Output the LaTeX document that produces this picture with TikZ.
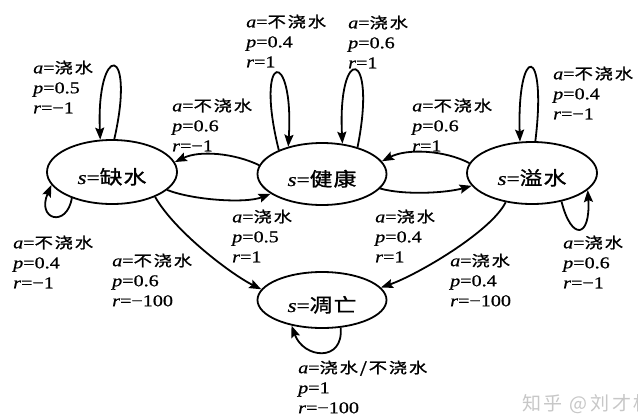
\documentclass[tikz,border=0pt]{standalone}
\usepackage{fontspec}
\setmainfont{Liberation Serif}[FakeStretch=1.22,FakeBold=0.7]
\newfontfamily\cjk{Noto Sans CJK SC}[FakeStretch=1.22,LetterSpace=12,FakeBold=1.2]
\newfontfamily\cjkn{Noto Sans CJK SC}[FakeStretch=1.2,LetterSpace=6,FakeBold=1.2]
\newfontfamily\wmfont{Noto Sans CJK SC}[LetterSpace=14]
\usetikzlibrary{arrows.meta,shapes.geometric}
\newcommand\mylab[3]{\textit{a}={\cjk\fontsize{15}{20}\selectfont #1}\\\textit{p}=#2\\\textit{r}=#3}
\newcommand\stname[1]{\textit{s}={\cjkn #1}\hspace{8pt}}
\begin{document}
\begin{tikzpicture}[x=1pt,y=-1pt,
  state/.style={draw,ellipse,line width=1.8pt,inner sep=0pt,text height=24pt,text depth=0pt,font=\fontsize{19}{22}\selectfont},
  arr/.style={line width=1.8pt,-{Stealth[length=12pt,width=9pt,inset=2pt]}},
  lab/.style={anchor=west,align=left,inner sep=0pt,font=\fontsize{16.5}{20}\selectfont},
  wm/.style={anchor=west,inner sep=0pt,text=black!22,font=\wmfont\fontsize{19}{20}\selectfont}]
\useasboundingbox (0,0) rectangle (638,416);
\fill[white] (0,0) rectangle (638,416);

% states
\node[state,minimum width=130pt,minimum height=64pt] (Q) at (112,172) {\stname{缺水}};
\node[state,minimum width=129pt,minimum height=62pt] (H) at (322,174) {\stname{健康}};
\node[state,minimum width=130pt,minimum height=62pt] (Y) at (532,173) {\stname{溢水}};
\node[state,minimum width=129pt,minimum height=56pt] (D) at (322,300) {\stname{凋亡}};

% self loops
\draw[arr] (Q.86) .. controls +(22,-97) and +(-4,-97) .. (Q.110);
\draw[arr] (Q.213) .. controls +(-5,30) and +(-15,35) .. (Q.192);
\draw[arr] (H.151) .. controls +(-25,-100) and +(6,-100) .. (H.141);
\draw[arr] (H.37) .. controls +(20,-100) and +(-5,-100) .. (H.56);
\draw[arr] (Y.84) .. controls +(12,-98) and +(-3,-98) .. (Y.111);
\draw[arr] (Y.316) .. controls +(10,40) and +(3,48) .. (Y.343);
\draw[arr] (D.304) .. controls +(3,35) and +(12,33) .. (D.220);

% transitions
\draw[arr] (H.172) .. controls +(-25,-12) and +(25,-12) .. (Q.9);
\draw[arr] (Q.342) .. controls +(25,10) and +(-25,10) .. (H.201);
\draw[arr] (Y.171.5) .. controls +(-25,-13) and +(25,-13) .. (H.12);
\draw[arr] (H.346) .. controls +(25,7) and +(-25,7) .. (Y.192);
\draw[arr] (Q.330) .. controls +(20,35) and +(-30,-15) .. (D.170);
\draw[arr] (Y.228) .. controls +(-15,30) and +(35,-12) .. (D.12);

% labels
\node[lab] (l1) at (33,87) {\mylab{浇水}{0.5}{−1}};
\node[lab] (l2) at (246,41) {\mylab{不浇水}{0.4}{1}};
\node[lab] (l3) at (348,42) {\mylab{浇水}{0.6}{1}};
\node[lab] (l4) at (553,93) {\mylab{不浇水}{0.4}{−1}};
\node[lab] (l5) at (172,125) {\mylab{不浇水}{0.6}{−1}};
\node[lab] (l6) at (412,125) {\mylab{不浇水}{0.6}{1}};
\node[lab] (l7) at (232,236) {\mylab{浇水}{0.5}{1}};
\node[lab] (l8) at (375,236) {\mylab{浇水}{0.4}{1}};
\node[lab] (l9) at (13,262) {\mylab{不浇水}{0.4}{−1}};
\node[lab] (l10) at (563,262) {\mylab{浇水}{0.6}{−1}};
\node[lab] (l11) at (112,280) {\mylab{不浇水}{0.6}{−100}};
\node[lab] (l12) at (450,280) {\mylab{浇水}{0.4}{−100}};
\node[lab] (l13) at (298,387) {\mylab{浇水/不浇水}{1}{−100}};

% watermark
\node[wm] (wmk) at (522,404) {知乎 @刘才权};
\end{tikzpicture}
\end{document}
